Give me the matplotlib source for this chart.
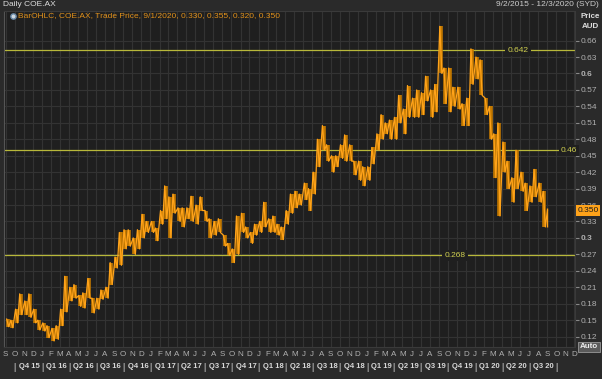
import numpy as np
import pandas as pd
import matplotlib
matplotlib.use('Agg')
import matplotlib.pyplot as plt
import matplotlib.transforms as mtransforms

plt.rcParams['font.family'] = ['Liberation Sans', 'DejaVu Sans']

# half-month highs / lows (Sep 2015 .. Aug 2020)
hi = [0.152, 0.150, 0.170, 0.198, 0.185, 0.198, 0.170, 0.150,
      0.145, 0.140, 0.135, 0.140, 0.170, 0.230, 0.210, 0.215,
      0.195, 0.200, 0.226, 0.190, 0.190, 0.205, 0.210, 0.255,
      0.265, 0.310, 0.315, 0.315, 0.300, 0.315, 0.343, 0.330,
      0.330, 0.318, 0.350, 0.395, 0.375, 0.380, 0.355, 0.355,
      0.355, 0.376, 0.360, 0.375, 0.350, 0.335, 0.330, 0.335,
      0.305, 0.290, 0.280, 0.340, 0.345, 0.320, 0.310, 0.325,
      0.330, 0.365, 0.335, 0.340, 0.325, 0.320, 0.350, 0.380,
      0.385, 0.380, 0.400, 0.390, 0.420, 0.480, 0.505, 0.470,
      0.450, 0.450, 0.470, 0.488, 0.470, 0.440, 0.440, 0.430,
      0.430, 0.465, 0.490, 0.525, 0.510, 0.515, 0.520, 0.560,
      0.535, 0.578, 0.555, 0.570, 0.565, 0.595, 0.570, 0.580,
      0.686, 0.610, 0.610, 0.575, 0.575, 0.545, 0.555, 0.645,
      0.630, 0.625, 0.555, 0.540, 0.490, 0.510, 0.475, 0.440,
      0.410, 0.460, 0.420, 0.400, 0.395, 0.425, 0.400, 0.385]
lo = [0.138, 0.136, 0.145, 0.160, 0.160, 0.155, 0.145, 0.132,
      0.130, 0.118, 0.112, 0.115, 0.140, 0.165, 0.185, 0.190,
      0.175, 0.172, 0.190, 0.163, 0.170, 0.188, 0.190, 0.215,
      0.245, 0.250, 0.280, 0.285, 0.270, 0.280, 0.300, 0.310,
      0.310, 0.295, 0.325, 0.335, 0.300, 0.345, 0.330, 0.320,
      0.335, 0.330, 0.325, 0.350, 0.330, 0.300, 0.305, 0.310,
      0.285, 0.268, 0.255, 0.270, 0.310, 0.300, 0.290, 0.305,
      0.310, 0.320, 0.310, 0.310, 0.305, 0.297, 0.325, 0.345,
      0.355, 0.360, 0.370, 0.350, 0.380, 0.430, 0.460, 0.440,
      0.420, 0.430, 0.445, 0.440, 0.440, 0.415, 0.405, 0.395,
      0.405, 0.435, 0.460, 0.480, 0.490, 0.480, 0.480, 0.510,
      0.490, 0.520, 0.520, 0.520, 0.525, 0.550, 0.520, 0.530,
      0.600, 0.545, 0.530, 0.540, 0.535, 0.505, 0.505, 0.580,
      0.590, 0.560, 0.525, 0.480, 0.410, 0.340, 0.420, 0.390,
      0.365, 0.390, 0.385, 0.350, 0.365, 0.375, 0.365, 0.320]
last_date = '2020-09-01'
last_ohlc = [0.330, 0.355, 0.320, 0.350]
levels = [0.642, 0.46, 0.268]
level_label_dates = ['2020-05-25', '2020-11-12', '2019-10-25']

periods = pd.date_range('2015-09-01', periods=len(hi), freq='SMS')

BG = '#1f1f1f'
FIG_BG = '#2a2a2a'
GRID = '#333333'
ORANGE = '#ffa31a'
LEVEL = '#b8b83a'
TXT = '#b0b0b0'

W, H = 602, 379
fig = plt.figure(figsize=(W / 100, H / 100), dpi=100, facecolor=FIG_BG)
ax = fig.add_axes([4 / W, 1 - 347 / H, (575 - 4) / W, (347 - 11) / H], facecolor=BG)

# zig-zag through the half-month highs and lows
xs, ys = [], []
for d, h, l in zip(periods, hi, lo):
    xs += [d + pd.Timedelta(days=3), d + pd.Timedelta(days=10)]
    ys += [h, l]
xs.append(pd.Timestamp(last_date))
ys.append(last_ohlc[3])
ax.vlines(periods + pd.Timedelta(days=7), lo, hi, color='#c27800', lw=2.6, zorder=3)
ax.plot(xs, ys, color=ORANGE, lw=0.9, zorder=4)
ax.vlines(pd.Timestamp(last_date), last_ohlc[2], last_ohlc[1], color=ORANGE, lw=1.0, zorder=4)

# horizontal levels
for lvl, d in zip(levels, level_label_dates):
    ax.axhline(lvl, color=LEVEL, lw=0.9, zorder=2)
    ax.text(pd.Timestamp(d), lvl, f'{lvl:g}', color='#d0d050', fontsize=6,
            ha='center', va='center', zorder=5,
            bbox=dict(boxstyle='square,pad=0.25', fc=BG, ec='none'))

ax.set_xlim(pd.Timestamp('2015-08-26'), pd.Timestamp('2020-12-03'))
ax.set_ylim(0.101, 0.714)

# y axis on right
yt = np.round(np.arange(0.12, 0.661, 0.03), 2)
ax.yaxis.tick_right()
ax.set_yticks(yt)
ax.set_yticklabels([f'{v:g}' for v in yt])
for lab, v in zip(ax.get_yticklabels(), yt):
    if v in (0.3, 0.6):
        lab.set_fontweight('bold')
        lab.set_color('#e8e8e8')
ax.tick_params(axis='y', colors='#888888', labelcolor=TXT, labelsize=6,
               length=3, width=0.8, pad=1)

# month ticks
months = pd.date_range('2015-09-01', '2020-12-01', freq='MS')
ax.set_xticks(months)
ax.set_xticklabels([m.strftime('%b')[0] for m in months])
ax.tick_params(axis='x', colors=TXT, labelsize=5.8, length=0, pad=3)

ax.grid(True, color=GRID, lw=0.8)
ax.set_axisbelow(True)
for s in ax.spines.values():
    s.set_color('#3a3a3a')
ax.spines['left'].set_color('#555555')

# quarter labels
trans = mtransforms.blended_transform_factory(ax.transData, ax.transAxes)
qstarts = pd.date_range('2015-10-01', '2020-10-01', freq='QS')
for q0, q1 in zip(qstarts[:-1], qstarts[1:]):
    mid = q0 + (q1 - q0) / 2 + pd.Timedelta(days=4)
    ax.text(mid, -20 / 336, f'Q{q0.quarter} {q0.strftime("%y")}', transform=trans,
            color='#d8d8d8', fontsize=5.5, fontweight='bold', ha='center', va='center')
for q in qstarts:
    ax.text(q, -20 / 336, '|', transform=trans, color='#d8d8d8', fontsize=6.5,
            ha='center', va='center')

# header texts
fig.text(3 / W, 1 - 5 / H, 'Daily COE.AX', color='#dddddd', fontsize=6,
         va='center')
fig.text(599 / W, 1 - 5 / H, '9/2/2015 - 12/3/2020 (SYD)', color='#cccccc',
         fontsize=6, va='center', ha='right')
fig.text(590 / W, 1 - 16 / H, 'Price', color='#dddddd', fontsize=5.8,
         fontweight='bold', ha='center', va='center')
fig.text(590 / W, 1 - 26 / H, 'AUD', color='#dddddd', fontsize=5.8,
         fontweight='bold', ha='center', va='center')
ax.plot([9 / 571], [1 - 5 / 336], 'o', ms=3.8, mfc='#cfd8e0', mec='#6a8aa8',
        transform=ax.transAxes, clip_on=False, zorder=6)
fig.text(18 / W, 1 - 16 / H,
         'BarOHLC, COE.AX, Trade Price, 9/1/2020, 0.330, 0.355, 0.320, 0.350',
         color='#e0901a', fontsize=6, va='center')

# last price tag and Auto box
ytrans = mtransforms.blended_transform_factory(fig.transFigure, ax.transData)
fig.text(588 / W, last_ohlc[3], '0.350', transform=ytrans, color='#1a1a1a',
         fontsize=6, ha='center', va='center', zorder=10,
         bbox=dict(boxstyle='square,pad=0.2', fc=ORANGE, ec='none'))
fig.text(589 / W, 1 - 347 / H, 'Auto', color='#eeeeee', fontsize=5.8,
         fontweight='bold', ha='center', va='center',
         bbox=dict(boxstyle='square,pad=0.2', fc='#5a5a5a', ec='#999999', lw=0.6))

fig.savefig('out.png', dpi=100, facecolor=FIG_BG)
